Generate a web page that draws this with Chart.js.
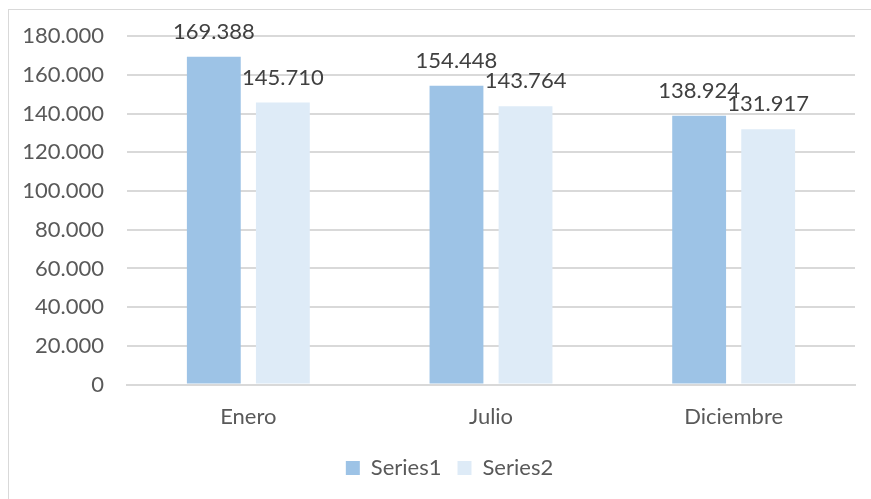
<!DOCTYPE html>
<html>
<head>
<meta charset="utf-8">
<script src="https://cdn.jsdelivr.net/npm/chart.js@4"></script>
<style>
  html, body { margin: 0; padding: 0; background: #fff; overflow: hidden; }
  #frame { position: absolute; left: 8px; top: 9px; width: 900px; height: 600px; border-left: 1px solid #d9d9d9; border-top: 1px solid #d9d9d9; }
  #wrap { position: absolute; left: 0; top: 0; width: 871px; height: 499px; }
</style>
</head>
<body>
<div id="frame"></div>
<div id="wrap"><canvas id="chart" width="871" height="499"></canvas></div>
<script>
// --- DUOMENYS ---
const categories = ["Enero", "Julio", "Diciembre"];
const series1 = [169388, 154448, 138924];
const series2 = [145710, 143764, 131917];
const seriesNames = ["Series1", "Series2"];
const yMax = 180000;
const yStep = 20000;

const FONT = "Lato, 'Open Sans', sans-serif";
const TEXT = '#595959';

// miles con punto: 169388 -> 169.388
function fmt(v) {
    return String(Math.round(v)).replace(/\B(?=(\d{3})+(?!\d))/g, '.');
}

// etiquetas de datos encima de las barras
const valueLabels = {
    id: 'valueLabels',
    afterDatasetsDraw(chart) {
        const ctx = chart.ctx;
        ctx.save();
        ctx.font = '22px ' + FONT;
        ctx.fillStyle = '#404040';
        ctx.textAlign = 'center';
        ctx.textBaseline = 'alphabetic';
        chart.data.datasets.forEach((ds, i) => {
            chart.getDatasetMeta(i).data.forEach((bar, j) => {
                ctx.fillText(fmt(ds.data[j]), bar.x, bar.y - 18);
            });
        });
        ctx.restore();
    }
};

// la leyenda va centrada en todo el lienzo, no en la zona del gráfico
const legendShift = {
    id: 'legendShift',
    afterUpdate(chart) {
        const lg = chart.legend;
        if (!lg) return;
        lg.left += 22;
        lg.right += 22;
        lg.adjustHitBoxes();
    }
};

new Chart(document.getElementById('chart'), {
    type: 'bar',
    data: {
        labels: categories,
        datasets: [
            { label: seriesNames[0], data: series1, backgroundColor: '#9dc3e6' },
            { label: seriesNames[1], data: series2, backgroundColor: '#deebf7' }
        ]
    },
    options: {
        responsive: false,
        animation: false,
        layout: { padding: { top: 33, right: 16, bottom: 10, left: 0 } },
        datasets: { bar: { categoryPercentage: 0.569, barPercentage: 0.78 } },
        scales: {
            x: {
                grid: { display: false },
                border: { color: '#d9d9d9', width: 2 },
                ticks: { color: TEXT, font: { family: FONT, size: 22 }, padding: 11 }
            },
            y: {
                min: 0,
                max: yMax,
                afterFit(scale) { scale.width = 127; },
                grid: { color: '#d9d9d9', lineWidth: 2, drawTicks: false },
                border: { display: false },
                ticks: {
                    stepSize: yStep,
                    color: TEXT,
                    padding: 23,
                    font: { family: FONT, size: 22 },
                    callback: v => fmt(v)
                }
            }
        },
        plugins: {
            tooltip: { enabled: false },
            legend: {
                position: 'bottom',
                labels: {
                    color: TEXT,
                    font: { family: FONT, size: 22 },
                    boxWidth: 14,
                    boxHeight: 14,
                    padding: 16
                }
            }
        }
    },
    plugins: [valueLabels, legendShift]
});
</script>
</body>
</html>
